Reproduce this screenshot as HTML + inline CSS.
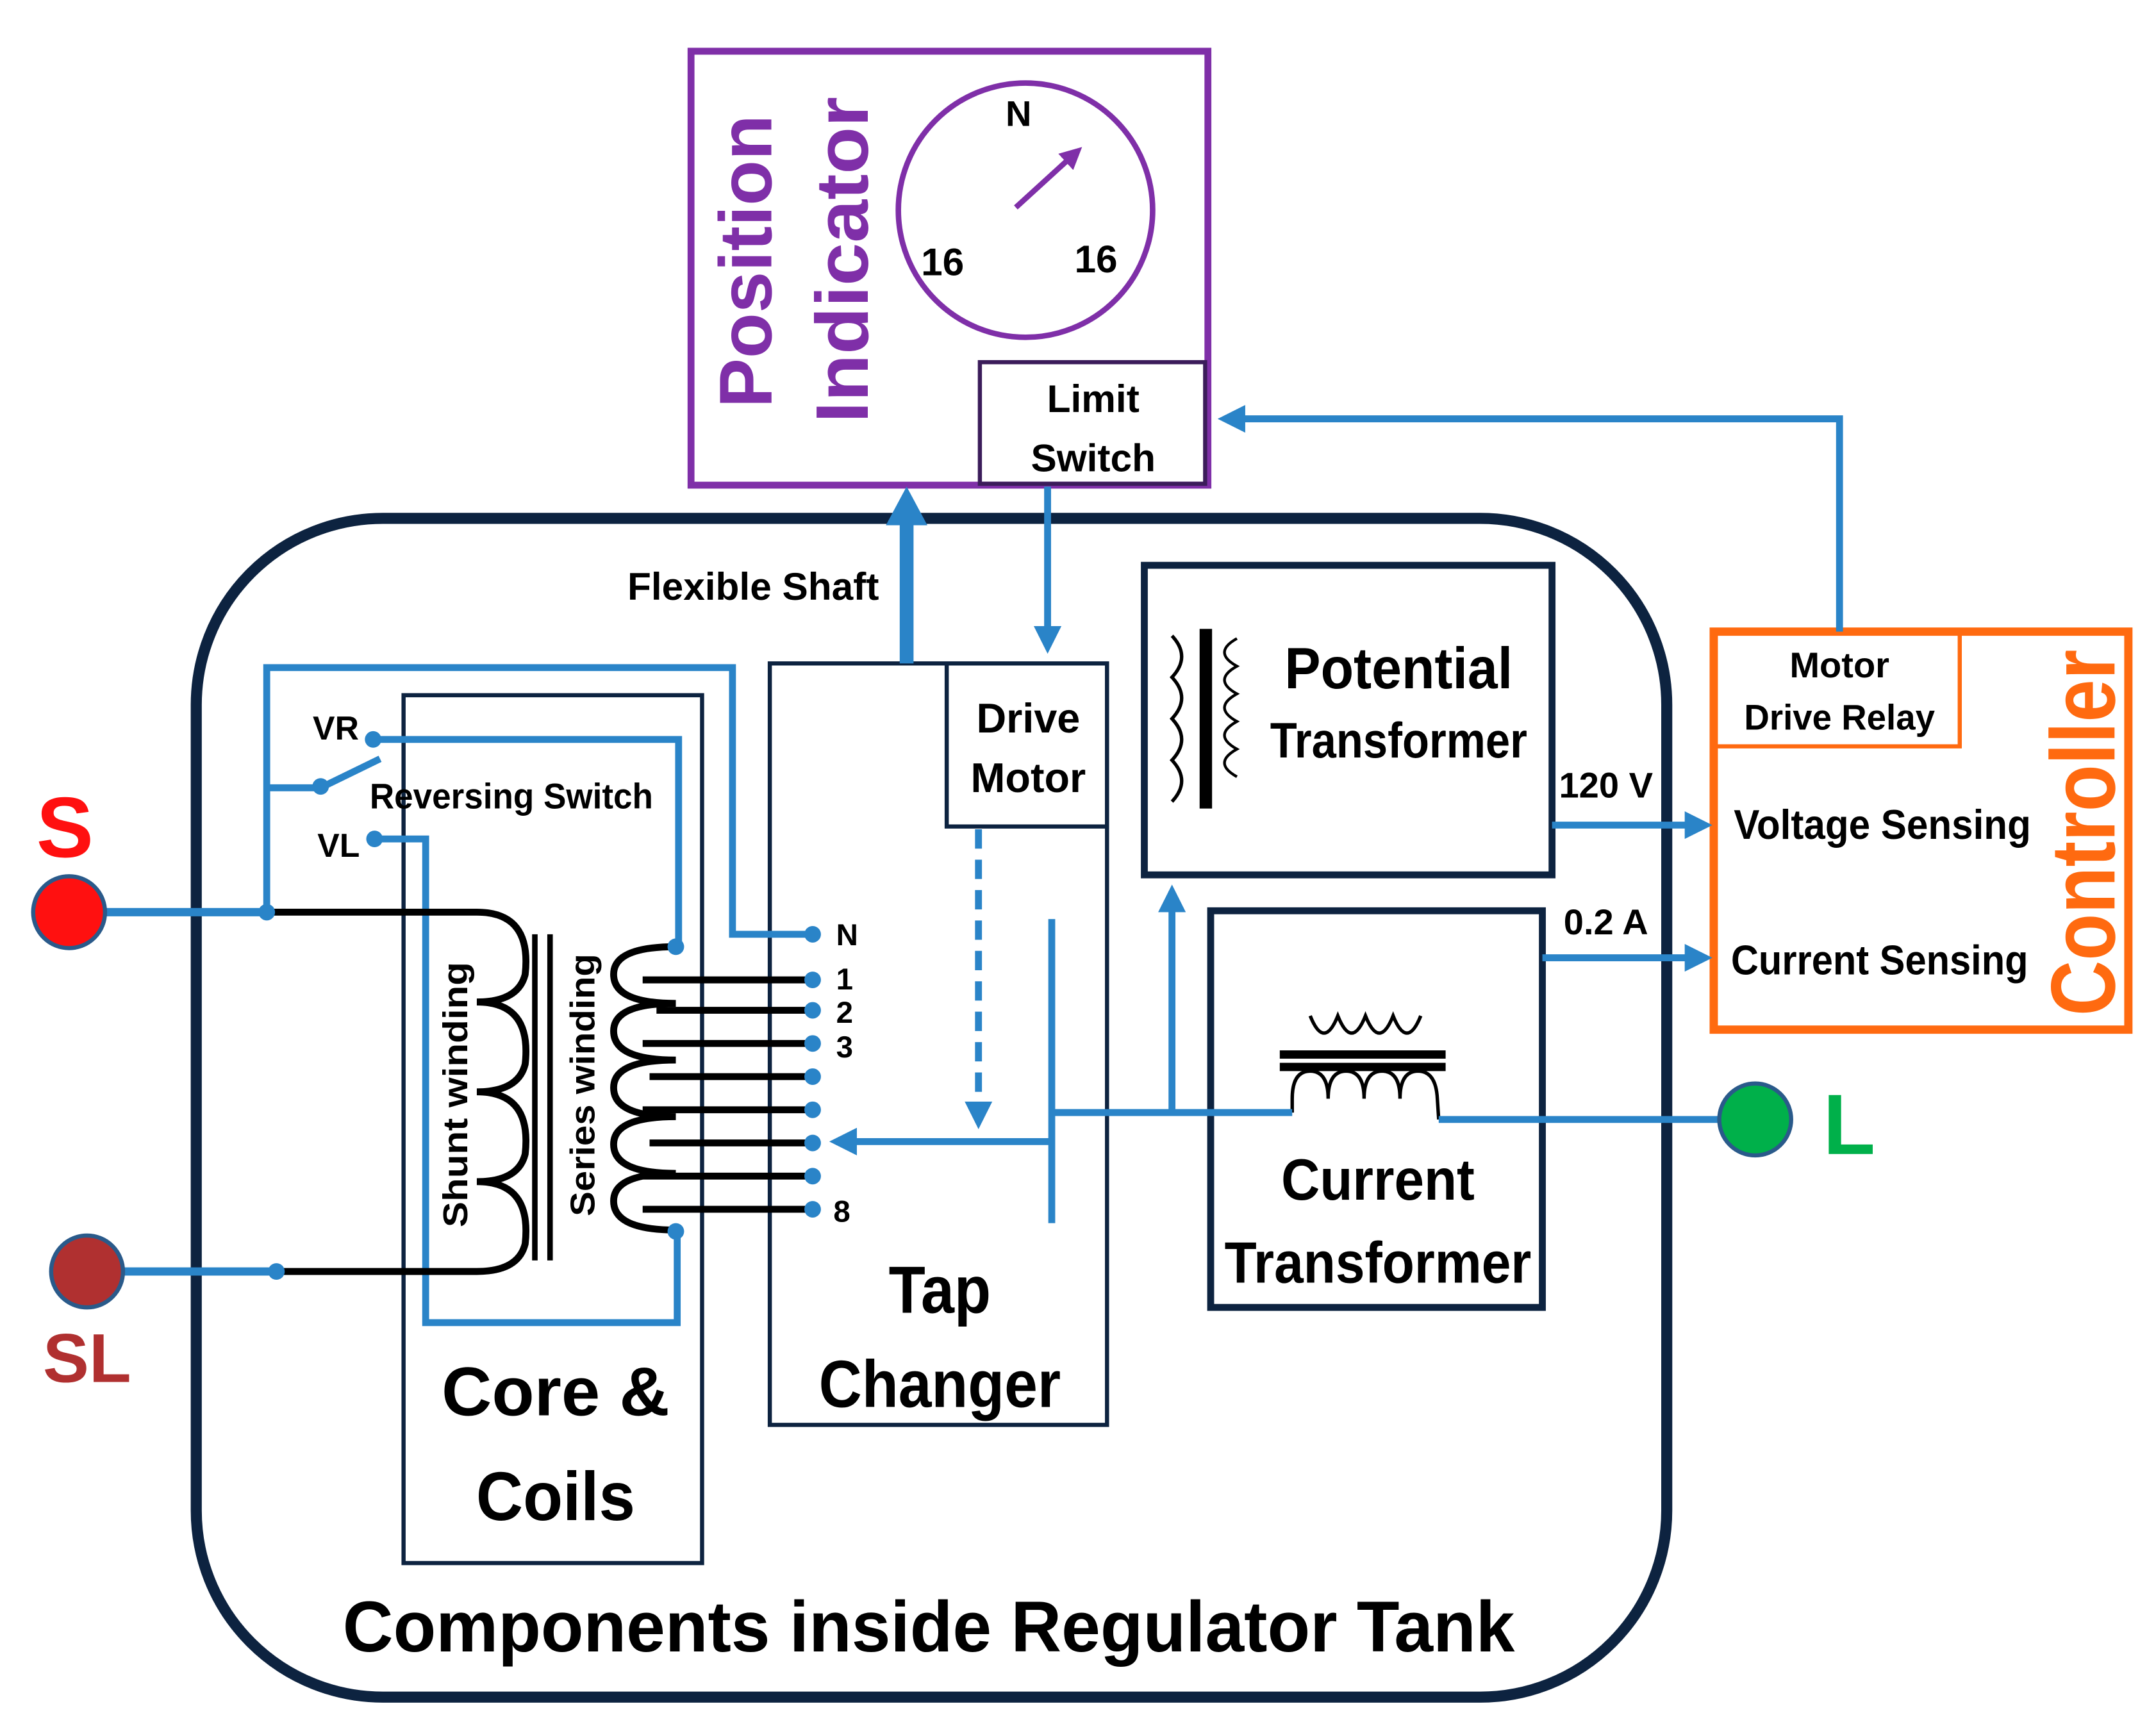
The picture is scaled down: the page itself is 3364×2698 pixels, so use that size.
<!DOCTYPE html>
<html><head><meta charset="utf-8"><style>html,body{margin:0;padding:0;background:#fff}svg{display:block}text{font-family:"Liberation Sans",sans-serif;font-weight:bold}</style></head>
<body>
<svg width="3364" height="2698" viewBox="0 0 1560 1251" xmlns="http://www.w3.org/2000/svg">
<defs>
<marker id="ah" markerWidth="4" markerHeight="4" refX="3" refY="2" orient="auto" markerUnits="strokeWidth"><path d="M0,0 L4,2 L0,4 z" fill="#2a84c8"/></marker>
<marker id="ahp" markerWidth="4" markerHeight="4" refX="3" refY="2" orient="auto" markerUnits="strokeWidth"><path d="M0,0 L4,2 L0,4 z" fill="#7f2fa8"/></marker>
</defs>
<rect width="1560" height="1251" fill="#fff"/>
<rect x="142" y="375" width="1064" height="853" rx="135" fill="none" stroke="#0d2340" stroke-width="8"/>
<rect x="500" y="37" width="374" height="314" fill="none" stroke="#7f2fa8" stroke-width="5"/>
<circle cx="742" cy="152" r="92" fill="none" stroke="#7f2fa8" stroke-width="4"/>
<line x1="735" y1="150" x2="780" y2="109" stroke="#7f2fa8" stroke-width="4" marker-end="url(#ahp)"/>
<rect x="709" y="262" width="163" height="88" fill="none" stroke="#3b1c5a" stroke-width="3"/>
<text x="558" y="295" transform="rotate(-90 558 295)" font-size="54" fill="#7f2fa8" textLength="212" lengthAdjust="spacingAndGlyphs">Position</text>
<text x="628" y="306" transform="rotate(-90 628 306)" font-size="54" fill="#7f2fa8" textLength="236" lengthAdjust="spacingAndGlyphs">Indicator</text>
<text x="737" y="91" font-size="26" text-anchor="middle">N</text>
<text x="682" y="199" font-size="28" text-anchor="middle">16</text>
<text x="793" y="197" font-size="28" text-anchor="middle">16</text>
<text x="791" y="298" font-size="28" text-anchor="middle">Limit</text>
<text x="791" y="341" font-size="28" text-anchor="middle">Switch</text>
<rect x="1240" y="457" width="300" height="288" fill="none" stroke="#ff6a10" stroke-width="6"/>
<rect x="1240" y="457" width="178" height="83" fill="none" stroke="#ff6a10" stroke-width="3"/>
<text x="1331" y="490" font-size="26" text-anchor="middle">Motor</text>
<text x="1331" y="528" font-size="26" text-anchor="middle" textLength="138" lengthAdjust="spacingAndGlyphs">Drive Relay</text>
<text x="1362" y="607" font-size="30" text-anchor="middle" textLength="215" lengthAdjust="spacingAndGlyphs">Voltage Sensing</text>
<text x="1360" y="705" font-size="30" text-anchor="middle" textLength="215" lengthAdjust="spacingAndGlyphs">Current Sensing</text>
<text x="1530" y="735" transform="rotate(-90 1530 735)" font-size="66" fill="#ff6a10" textLength="265" lengthAdjust="spacingAndGlyphs">Controller</text>
<rect x="828" y="409" width="295" height="224" fill="none" stroke="#0d2340" stroke-width="5"/>
<path d="M848,460 q14,15 0,30 q14,15 0,30 q14,15 0,30 q14,15 0,30" fill="none" stroke="#000" stroke-width="2.5"/>
<rect x="868" y="455" width="9" height="130" fill="#000"/>
<path d="M895,462 q-18,10 0,20 q-18,10 0,20 q-18,10 0,20 q-18,10 0,20 q-18,10 0,20" fill="none" stroke="#000" stroke-width="2"/>
<text x="1012" y="498" font-size="42" text-anchor="middle" textLength="165" lengthAdjust="spacingAndGlyphs">Potential</text>
<text x="1012" y="548" font-size="36" text-anchor="middle" textLength="186" lengthAdjust="spacingAndGlyphs">Transformer</text>
<rect x="876" y="659" width="240" height="287" fill="none" stroke="#0d2340" stroke-width="5"/>
<path d="M948,735 q10,25 20,0 q10,25 20,0 q10,25 20,0 q10,25 20,0" fill="none" stroke="#000" stroke-width="2.5"/>
<rect x="926" y="760" width="120" height="6" fill="#000"/>
<rect x="926" y="769" width="120" height="6" fill="#000"/>
<path d="M935,805 L935,795 q0,-20 13,-20 q13,0 13,20 q0,-20 13,-20 q13,0 13,20 q0,-20 13,-20 q13,0 13,20 q0,-20 13,-20 q13,0 14,20 L1041,810" fill="none" stroke="#000" stroke-width="2.5"/>
<text x="997" y="868" font-size="42" text-anchor="middle" textLength="140" lengthAdjust="spacingAndGlyphs">Current</text>
<text x="997" y="928" font-size="42" text-anchor="middle" textLength="222" lengthAdjust="spacingAndGlyphs">Transformer</text>
<rect x="557" y="480" width="244" height="551" fill="none" stroke="#0d2340" stroke-width="3"/>
<rect x="685" y="480" width="116" height="118" fill="none" stroke="#0d2340" stroke-width="3"/>
<text x="744" y="530" font-size="30" text-anchor="middle">Drive</text>
<text x="744" y="573" font-size="30" text-anchor="middle">Motor</text>
<text x="680" y="950" font-size="48" text-anchor="middle" textLength="74" lengthAdjust="spacingAndGlyphs">Tap</text>
<text x="680" y="1018" font-size="48" text-anchor="middle" textLength="175" lengthAdjust="spacingAndGlyphs">Changer</text>
<rect x="292" y="503" width="216" height="628" fill="none" stroke="#0d2340" stroke-width="3"/>
<text x="402" y="1024" font-size="50" text-anchor="middle" textLength="165" lengthAdjust="spacingAndGlyphs">Core &amp;</text>
<text x="402" y="1100" font-size="50" text-anchor="middle" textLength="115" lengthAdjust="spacingAndGlyphs">Coils</text>
<text x="672" y="1195" font-size="52" text-anchor="middle" textLength="848" lengthAdjust="spacingAndGlyphs">Components inside Regulator Tank</text>
<text x="545" y="434" font-size="28" text-anchor="middle" textLength="182" lengthAdjust="spacingAndGlyphs">Flexible Shaft</text>
<text x="1162" y="577" font-size="26" text-anchor="middle">120 V</text>
<text x="1162" y="676" font-size="26" text-anchor="middle">0.2 A</text>
<g fill="none" stroke="#2a84c8" stroke-width="5">
<path d="M77,660 H193" stroke-width="6"/>
<path d="M90,920 H200" stroke-width="6"/>
<path d="M193,660 V483 H530 V676 H588"/>
<path d="M193,570 H232 L275,549"/>
<path d="M270,535 H491 V685"/>
<path d="M271,607 H308 V957 H490 V891"/>
<path d="M761,665 V885"/>
<path d="M761,826 H605" marker-end="url(#ah)"/>
<path d="M708,600 V812" stroke-dasharray="14,8" marker-end="url(#ah)"/>
<path d="M761,805 H935"/>
<path d="M848,805 V645" marker-end="url(#ah)"/>
<path d="M1041,810 H1243"/>
<path d="M758,352 V468" marker-end="url(#ah)"/>
<path d="M1331,457 V303 H886" marker-end="url(#ah)"/>
<path d="M1123,597 H1234" marker-end="url(#ah)"/>
<path d="M1116,693 H1234" marker-end="url(#ah)"/>
</g>
<path d="M656,480 V370" stroke="#2a84c8" stroke-width="10" fill="none"/>
<path d="M641,380 L656,352 L671,380 z" fill="#2a84c8"/>
<g fill="none" stroke="#000" stroke-width="5">
<path d="M193,660 H345 q40,0 35,45 q-5,20 -35,20 q40,0 35,45 q-5,20 -35,20 q40,0 35,45 q-5,20 -35,20 q40,0 35,45 q-5,20 -35,20 H200"/>
<path d="M489,685 q-45,0 -45,20 q0,21 45,21 q-45,0 -45,20 q0,21 45,21 q-45,0 -45,20 q0,21 45,21 q-45,0 -45,20 q0,21 45,21 q-45,0 -45,20 q0,21 45,21"/>
<path d="M465,709 H588 M475,731 H588 M465,755 H588 M470,779 H588 M465,803 H588 M470,827 H588 M465,851 H588 M465,875 H588"/>
</g>
<rect x="385" y="676" width="4" height="236" fill="#000"/>
<rect x="396" y="676" width="4" height="236" fill="#000"/>
<g fill="#2a84c8">
<circle cx="193" cy="660" r="6"/><circle cx="200" cy="920" r="6"/>
<circle cx="232" cy="569" r="6"/><circle cx="270" cy="535" r="6"/><circle cx="271" cy="607" r="6"/>
<circle cx="489" cy="685" r="6"/><circle cx="489" cy="891" r="6"/>
<circle cx="588" cy="676" r="6"/><circle cx="588" cy="709" r="6"/><circle cx="588" cy="731" r="6"/><circle cx="588" cy="755" r="6"/><circle cx="588" cy="779" r="6"/><circle cx="588" cy="803" r="6"/><circle cx="588" cy="827" r="6"/><circle cx="588" cy="851" r="6"/><circle cx="588" cy="875" r="6"/>
</g>
<g font-size="22">
<text x="605" y="684">N</text><text x="605" y="716">1</text><text x="605" y="740">2</text><text x="605" y="765">3</text><text x="603" y="884">8</text>
</g>
<text x="243" y="535" font-size="24" text-anchor="middle">VR</text>
<text x="245" y="620" font-size="24" text-anchor="middle">VL</text>
<text x="370" y="585" font-size="26" text-anchor="middle" textLength="205" lengthAdjust="spacingAndGlyphs">Reversing Switch</text>
<text x="338" y="888" transform="rotate(-90 338 888)" font-size="25" textLength="192" lengthAdjust="spacingAndGlyphs">Shunt winding</text>
<text x="430" y="880" transform="rotate(-90 430 880)" font-size="25" textLength="190" lengthAdjust="spacingAndGlyphs">Series winding</text>
<circle cx="50" cy="660" r="26" fill="#ff1010" stroke="#2a5a8a" stroke-width="3"/>
<circle cx="63" cy="920" r="26" fill="#b03030" stroke="#2a5a8a" stroke-width="3"/>
<circle cx="1270" cy="810" r="26" fill="#00b04a" stroke="#2a5a8a" stroke-width="3"/>
<text x="47" y="620" font-size="62" fill="#ff1010" text-anchor="middle">S</text>
<text x="63" y="1000" font-size="50" fill="#b03030" text-anchor="middle">SL</text>
<text x="1338" y="835" font-size="62" fill="#00b04a" text-anchor="middle">L</text>
</svg>
</body></html>
